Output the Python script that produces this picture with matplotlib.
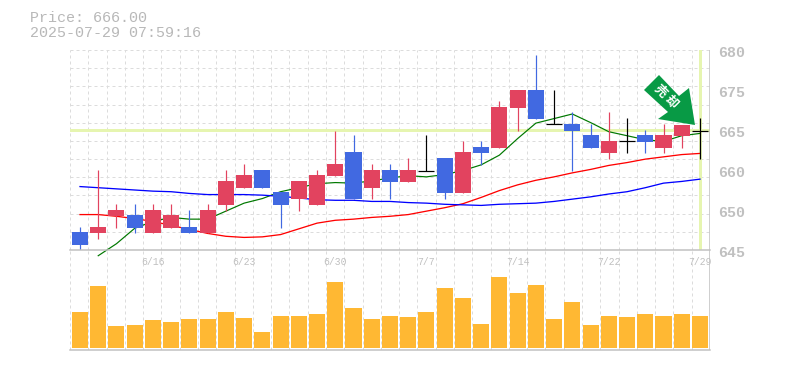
import matplotlib
matplotlib.use("Agg")
import matplotlib.pyplot as plt
from matplotlib.patches import Polygon

# candles
highs = [649.0, 659.0, 653.1, 653.1, 653.1, 653.1, 652.0, 653.1, 659.0, 660.1, 659.0, 655.2,
         657.1, 659.0, 665.9, 665.1, 660.1, 660.1, 661.1, 665.1, 661.1, 664.1, 664.1, 671.1,
         673.0, 679.1, 673.0, 669.2, 667.0, 669.2, 668.1, 666.0, 667.0, 666.8, 668.1]
lows = [644.9, 646.9, 648.9, 648.0, 648.0, 648.9, 648.0, 648.0, 651.8, 655.9, 655.9, 648.9,
        651.8, 652.9, 658.0, 653.9, 653.9, 653.9, 656.9, 658.9, 653.9, 655.0, 659.9, 662.9,
        665.9, 667.9, 667.0, 658.9, 662.9, 660.9, 662.0, 662.0, 662.0, 662.9, 661.0]
opens = [648.2, 648.0, 651.0, 651.1, 648.0, 648.9, 649.0, 648.0, 652.9, 655.9, 659.0, 655.2,
         653.9, 652.9, 658.0, 662.2, 655.9, 659.0, 656.9, 658.9, 661.1, 655.0, 663.0, 662.9,
         669.9, 673.0, 667.0, 667.0, 665.1, 662.0, 664.1, 665.1, 662.9, 665.0, 665.9]
closes = [645.9, 649.0, 652.0, 648.9, 652.0, 651.1, 648.0, 652.0, 657.1, 658.1, 655.9, 652.9,
          657.1, 658.1, 660.1, 653.9, 659.0, 656.9, 659.0, 658.9, 655.0, 662.2, 662.0, 670.0,
          673.0, 667.9, 667.0, 665.8, 662.9, 664.1, 664.1, 663.9, 665.1, 666.8, 665.9]

# moving averages
ma_short = [None, 644.0, 646.1, 648.8, 650.0, 650.7, 650.4, 650.4, 651.8, 653.2, 654.0, 655.2,
            655.9, 656.6, 656.8, 656.7, 657.1, 657.6, 658.0, 657.8, 658.2, 658.9, 659.9, 661.6,
            664.5, 667.2, 668.0, 668.8, 667.3, 665.7, 665.0, 664.3, 664.0, 665.0, 665.4]
ma_mid = [651.2, 651.2, 650.9, 650.5, 650.0, 649.3, 648.6, 647.9, 647.4, 647.2, 647.3, 647.7,
          648.7, 649.7, 650.2, 650.4, 650.7, 650.9, 651.2, 651.8, 652.4, 653.1, 654.2, 655.4,
          656.4, 657.2, 657.8, 658.5, 659.1, 659.8, 660.3, 660.9, 661.3, 661.7, 661.9]
ma_long = [656.1, 655.9, 655.7, 655.5, 655.3, 655.2, 654.9, 654.7, 654.7, 654.7, 654.6, 654.4,
           654.1, 653.8, 653.7, 653.7, 653.5, 653.5, 653.3, 653.2, 653.0, 652.9, 652.8, 653.0,
           653.1, 653.2, 653.5, 653.9, 654.3, 654.8, 655.2, 655.9, 656.7, 657.0, 657.4]

volumes = [108, 186, 66, 69, 84, 78, 87, 87, 108, 90, 48, 96, 96, 102, 198, 120, 87, 96,
           93, 108, 180, 150, 72, 213, 165, 189, 87, 138, 69, 96, 93, 102, 96, 102, 96]

price_labels = ["680", "675", "665", "660", "650", "645"]
date_pos = [4, 9, 14, 19, 24, 29, 34]
date_labels = ["6/16", "6/23", "6/30", "7/7", "7/14", "7/22", "7/29"]
last_price = 666.0

W, H = 785, 370
RED = "#e2435f"
BLUE = "#4169e1"
GRAY = "#c0c0c0"
GRID = "#dcdcdc"
YELLOW = "#e6f5b0"
PX = 0.72  # one pixel in points

fig = plt.figure(figsize=(W / 100, H / 100), dpi=100)
vax = fig.add_axes([70 / W, 1 - 350 / H, 640 / W, 100 / H])
ax = fig.add_axes([70 / W, 1 - 250 / H, 640 / W, 200 / H])

n = len(closes)
xs = list(range(n))
xlim = (-0.548, 34.55)
grid_x = [-0.548 + i * 35.098 / 35 for i in range(36)]

for a in (ax, vax):
    a.set_xlim(*xlim)
    a.set_xticks([])
    a.set_yticks([])
    a.patch.set_visible(False)
    for s in a.spines.values():
        s.set_visible(False)
    for g in grid_x[:-1]:
        a.axvline(g, color=GRID, lw=PX, dashes=(3, 3), zorder=1)
    a.axvline(xlim[1], color=GRAY, lw=1.5 * PX, zorder=6)

ax.set_ylim(645, 680)
for i in range(1, 12):
    ax.axhline(645 + i * 35 / 11, color=GRID, lw=PX, dashes=(3, 3), zorder=1)
ax.axhline(645, color=GRAY, lw=1.5 * PX, zorder=6, clip_on=False)

# current price cross
ax.axhline(last_price, color=YELLOW, lw=3 * PX, zorder=2)
ax.axvline(xs[-1], ymin=0.005, ymax=0.995, color=YELLOW, lw=3 * PX, zorder=2)

ax.plot(xs, ma_short, color="#007800", lw=1.2 * PX, zorder=3, clip_on=False)
ax.plot(xs, ma_mid, color="#ff0000", lw=1.3 * PX, zorder=3)
ax.plot(xs, ma_long, color="#0000ff", lw=1.3 * PX, zorder=3)

# candles
for i in xs:
    o, c = opens[i], closes[i]
    col = "black" if o == c else (RED if c > o else BLUE)
    ax.vlines(i, lows[i], highs[i], color=col, lw=1.2 * PX, zorder=4)
    if o == c:
        ax.hlines(o, i - 0.44, i + 0.44, color="black", lw=1.2 * PX, zorder=4)
    else:
        ax.bar(i, abs(c - o), bottom=min(o, c), width=0.88, color=col, zorder=4)

# sell signal arrow, pixel outline
arrow_px = [(659, 75), (644, 90), (668, 112), (658, 119), (695, 125), (689, 88), (679, 96)]
arrow_fig = [(x / W, 1 - y / H) for x, y in arrow_px]
fig.add_artist(Polygon(arrow_fig, closed=True, transform=fig.transFigure,
                       facecolor="#089a45", edgecolor="none", zorder=8))
fig.text(666 / W, 1 - 97 / H, "売 却", color="white", fontsize=9, fontweight="bold",
         family=["Noto Sans CJK JP", "DejaVu Sans"], rotation=-45,
         ha="center", va="center", zorder=9)

# volume
vax.set_ylim(-7, 293)
vax.bar(xs, volumes, width=0.88, color="#ffb833", zorder=3)
vax.axhline(-7, color=GRAY, lw=1.5 * PX, zorder=6, clip_on=False)

# text
mono = ["Liberation Mono", "DejaVu Sans Mono"]
for i, lab in enumerate(price_labels):
    fig.text(718 / W, 1 - (53 + i * 40) / H, lab, color=GRAY, fontsize=10.8, family=mono,
             fontweight="bold", ha="left", va="center")
pos_px = ax.transData.transform([(p, 645) for p in date_pos])
for (px, _), lab in zip(pos_px, date_labels):
    fig.text(px / W, 1 - 262 / H, lab, color=GRAY, fontsize=7, family=mono,
             ha="center", va="center")
fig.text(30 / W, 1 - 18 / H, "Price: %.2f" % last_price, color="#b8b8b8", fontsize=10.8,
         family=mono, ha="left", va="center")
fig.text(30 / W, 1 - 33 / H, "2025-07-29 07:59:16", color="#b8b8b8", fontsize=10.8,
         family=mono, ha="left", va="center")

fig.savefig("out.png", dpi=100)
